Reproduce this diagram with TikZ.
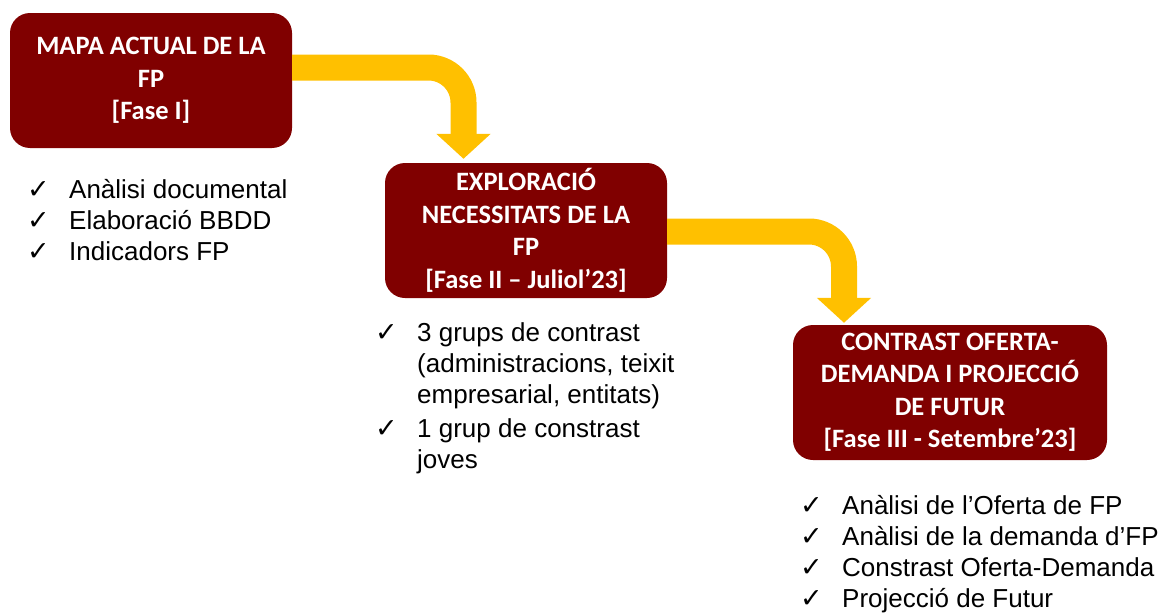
\documentclass[tikz,border=0pt]{standalone}
\usepackage{fontspec}
\setmainfont{Liberation Sans}
\newfontfamily\boxfont{Carlito}
\newfontfamily\ckfont{DejaVu Sans}
\usetikzlibrary{arrows.meta}
\definecolor{granat}{HTML}{800000}
\definecolor{groc}{HTML}{FFC000}
\newcommand{\ck}{\makebox[42pt][l]{\ckfont\fontsize{27}{27}\selectfont ✓}}
\newcommand{\ind}{\hspace*{42pt}}
\tikzset{
  fase/.style={fill=granat, rounded corners=20pt, text=white, align=center,
    font=\boxfont\bfseries\fontsize{26.5}{32.5}\selectfont, inner sep=0pt, minimum height=135pt},
  flux/.style={draw=groc, line width=26pt, rounded corners=35pt,
    -{Triangle[width=53pt,length=25pt]}},
  llista/.style={anchor=north west, align=left, inner sep=0pt,
    font=\fontsize{26}{31}\selectfont}
}
\begin{document}
\begin{tikzpicture}[x=1pt,y=-1pt]
\useasboundingbox (0,0) rectangle (1165,613);
\node[fase, minimum width=282pt] (f1) at (151,80.5) {MAPA ACTUAL DE LA\\FP\\{[Fase I]}};
\node[fase, minimum width=282pt] (f2) at (526,230.5) {EXPLORACIÓ\\NECESSITATS DE LA\\FP\\{[Fase II – Juliol’23]}};
\node[fase, minimum width=314pt] (f3) at (950,392.5) {CONTRAST OFERTA-\\DEMANDA I PROJECCIÓ\\DE FUTUR\\{[Fase III - Setembre’23]}};
\draw[flux] ([yshift=13pt]f1.east) -| ([xshift=-62.5pt,yshift=4pt]f2.north);
\draw[flux] ([yshift=-1pt]f2.east) -| ([xshift=-106pt,yshift=2pt]f3.north);
\node[llista] (l1) at (27,179) {\ck Anàlisi documental\\\ck Elaboració BBDD\\\ck Indicadors FP};
\node[llista] (l2) at (375,322) {\ck 3 grups de contrast\\\ind(administracions, teixit\\\ind empresarial, entitats)\\[3pt]\ck 1 grup de constrast\\\ind joves};
\node[llista] (l3) at (800,495) {\ck Anàlisi de l’Oferta de FP\\\ck Anàlisi de la demanda d’FP\\\ck Constrast Oferta-Demanda\\\ck Projecció de Futur};
\end{tikzpicture}
\end{document}
